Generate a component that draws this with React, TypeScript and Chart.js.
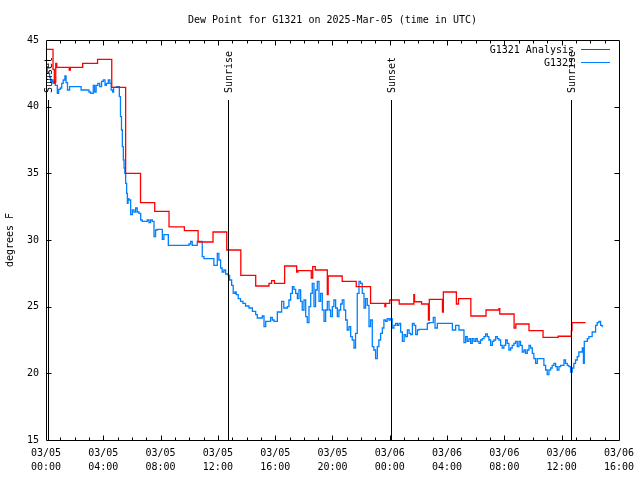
import React, { useEffect, useRef } from "react";
import { Chart, registerables } from "chart.js";

Chart.register(...registerables);

const TITLE = "Dew Point for G1321 on 2025-Mar-05 (time in UTC)";
const Y_TITLE = "degrees F";
const X_TICK_DATES = ["03/05", "03/05", "03/05", "03/05", "03/05", "03/05", "03/06", "03/06", "03/06", "03/06", "03/06"];
const X_TICK_TIMES = ["00:00", "04:00", "08:00", "12:00", "16:00", "20:00", "00:00", "04:00", "08:00", "12:00", "16:00"];
const ANALYSIS_LABEL = "G1321 Analysis";
const OBS_LABEL = "G1321";

// hours since 03/05 00:00 UTC
const analysisHours = [
  0.0, 0.49, 0.58, 0.68, 0.75, 1.62, 1.7, 2.56, 3.6, 4.59, 5.56, 6.6, 7.59, 8.59, 9.66, 10.62, 11.66,
  12.62, 13.6, 14.64, 15.57, 15.75, 15.95, 16.66, 17.5, 17.58, 18.52, 18.62, 18.8, 19.64, 19.7, 20.68,
  21.66, 22.66, 23.66, 23.72, 24.0, 24.66, 25.68, 25.73, 26.22, 26.7, 26.76, 27.68, 27.74, 28.65, 28.8,
  29.66, 30.72, 31.62, 31.68, 32.68, 32.8, 33.72, 34.7, 35.76, 36.68, 36.72, 37.67,
];
const analysisValues = [
  44.3, 42.8, 41.8, 43.25, 42.95, 42.75, 42.95, 43.25, 43.55, 41.45, 35.0, 32.8, 32.15, 30.98, 30.7, 29.85, 30.6,
  29.25, 27.35, 26.55, 26.75, 26.95, 26.75, 28.05, 27.6, 27.7, 27.15, 28.0, 27.75, 25.9, 27.3, 26.9,
  26.5, 25.25, 25.0, 25.25, 25.5, 25.2, 25.9, 25.37, 25.2, 24.0, 25.55, 24.6, 26.1, 25.2, 25.6,
  24.3, 24.75, 24.85, 24.45, 23.4, 23.7, 23.2, 22.7, 22.78, 23.2, 23.8, 23.8,
];

const obsHours = [
  0.02, 0.09, 0.15, 0.25, 0.32, 0.39, 0.48, 0.56, 0.65, 0.79, 0.88, 1.0, 1.1, 1.2, 1.32, 1.4, 1.5, 1.65,
  2.45, 3.0, 3.12, 3.3, 3.4, 3.5, 3.62, 3.75, 3.88, 4.0, 4.12, 4.22, 4.35, 4.46, 4.55, 4.65, 4.72, 4.92,
  5.12, 5.2, 5.27, 5.33, 5.4, 5.45, 5.5, 5.56, 5.63, 5.68, 5.73, 5.79, 5.91, 6.03, 6.14, 6.26, 6.37, 6.49,
  6.61, 6.72, 7.07, 7.19, 7.3, 7.42, 7.54, 7.65, 7.77, 8.12, 8.23, 8.54, 9.98, 10.1, 10.21, 10.56, 10.91,
  11.03, 11.72, 11.96, 12.07, 12.19, 12.3, 12.42, 12.54, 12.72, 12.82, 12.96, 13.07, 13.19, 13.28, 13.42,
  13.58, 13.75, 13.93, 14.17, 14.41, 14.64, 14.75, 15.1, 15.22, 15.34, 15.68, 15.8, 15.92, 16.15, 16.45,
  16.6, 16.85, 16.96, 17.08, 17.2, 17.31, 17.43, 17.55, 17.66, 17.78, 17.89, 18.01, 18.13, 18.24, 18.36,
  18.48, 18.59, 18.71, 18.82, 18.94, 19.06, 19.17, 19.29, 19.41, 19.52, 19.64, 19.76, 19.87, 19.99, 20.1,
  20.22, 20.34, 20.45, 20.57, 20.68, 20.8, 20.92, 21.03, 21.15, 21.27, 21.38, 21.5, 21.61, 21.73, 21.85,
  21.96, 22.08, 22.2, 22.31, 22.43, 22.55, 22.66, 22.78, 22.89, 23.01, 23.13, 23.24, 23.36, 23.48, 23.59,
  23.71, 23.82, 23.95, 24.06, 24.17, 24.29, 24.41, 24.53, 24.64, 24.76, 24.88, 25.0, 25.11, 25.23, 25.35,
  25.46, 25.58, 25.7, 25.81, 25.93, 26.04, 26.62, 26.74, 27.04, 27.16, 27.32, 28.37, 28.6, 28.83, 29.18,
  29.3, 29.41, 29.53, 29.65, 29.76, 29.88, 30.0, 30.11, 30.23, 30.34, 30.46, 30.58, 30.69, 30.81, 30.92,
  31.04, 31.16, 31.27, 31.39, 31.51, 31.62, 31.74, 31.85, 31.97, 32.09, 32.2, 32.32, 32.44, 32.55, 32.67,
  32.78, 32.9, 33.02, 33.13, 33.25, 33.37, 33.48, 33.6, 33.72, 33.83, 33.95, 34.06, 34.18, 34.3, 34.76,
  34.88, 34.99, 35.11, 35.23, 35.34, 35.46, 35.58, 35.69, 35.81, 35.93, 36.16, 36.27, 36.39, 36.51, 36.62,
  36.74, 36.85, 36.97, 37.09, 37.2, 37.44, 37.52, 37.58, 37.79, 37.9, 38.13, 38.37, 38.48, 38.6, 38.72, 38.83,
];
const obsValues = [
  43.0, 42.6, 42.5, 42.2, 41.9, 42.0, 41.75, 41.9, 41.6, 41.0, 41.3, 41.4, 41.75, 42.0, 42.3, 41.8, 41.25, 41.5,
  41.25, 41.1, 41.0, 41.6, 41.1, 41.6, 41.75, 41.5, 41.9, 42.0, 41.6, 41.75, 42.0, 41.75, 41.25, 41.1, 41.45, 41.5,
  40.75, 39.25, 38.25, 37.0, 36.0, 35.4, 35.0, 34.25, 33.5, 32.75, 33.1, 33.0, 31.9, 32.25, 32.1, 32.4, 32.1, 32.0,
  31.5, 31.4, 31.5, 31.3, 31.5, 31.4, 30.25, 30.75, 30.8, 30.05, 30.4, 29.6, 29.7, 29.9, 29.6, 29.9, 28.75,
  28.6, 28.1, 29.0, 28.5, 27.9, 27.6, 27.75, 27.45, 27.35, 27.0, 26.6, 26.0, 26.1, 25.9, 25.6,
  25.4, 25.25, 25.05, 24.9, 24.65, 24.4, 24.15, 24.3, 23.5, 23.9, 24.2, 24.0, 23.9, 24.6, 25.4,
  24.9, 25.0, 25.5, 26.0, 26.5, 26.3, 26.0, 25.6, 26.25, 25.4, 24.75, 25.5, 24.25, 23.8, 25.0,
  26.0, 26.75, 25.0, 26.25, 26.9, 25.4, 26.0, 24.75, 23.9, 24.75, 25.4, 24.75, 24.25, 25.0, 25.5,
  24.9, 24.25, 24.75, 25.2, 25.5, 24.75, 24.0, 23.25, 23.5, 22.75, 22.5, 21.9, 23.0, 26.0, 26.9,
  26.75, 26.0, 24.9, 25.6, 25.1, 23.5, 24.0, 22.0, 21.75, 21.1, 22.0, 22.5, 23.0, 23.4, 24.0,
  23.9, 24.1, 24.0, 24.1, 23.4, 23.6, 23.75, 23.6, 23.75, 23.1, 22.4, 22.9, 22.75, 23.25, 23.0,
  22.9, 23.75, 23.6, 22.9, 23.25, 23.3, 23.75, 23.8, 24.2, 23.4, 23.75, 23.25, 23.6, 23.25, 22.3,
  22.75, 22.4, 22.6, 22.25, 22.6, 22.4, 22.6, 22.4, 22.25, 22.5, 22.6, 22.75, 22.95, 22.75, 22.5,
  22.1, 22.4, 22.5, 22.75, 22.6, 22.5, 22.1, 21.9, 22.1, 22.5, 22.25, 21.75, 21.9, 22.1, 22.25,
  22.4, 22.0, 22.4, 22.1, 21.6, 21.75, 21.5, 21.75, 22.1, 21.9, 21.5, 21.1, 20.75, 21.1, 20.6,
  20.25, 19.9, 20.25, 20.4, 20.6, 20.75, 20.5, 20.25, 20.5, 20.6, 21.0, 20.75, 20.6, 20.5, 20.1,
  20.4, 20.75, 21.0, 21.25, 21.6, 21.9, 20.75, 22.4, 22.6, 22.75, 23.1, 23.6, 23.8, 23.9, 23.6, 23.45,
];

const sunEventHours = [0.15, 12.7, 24.12, 36.63];
const sunEventLabels = ["Sunset", "Sunrise", "Sunset", "Sunrise"];

const FONT_FAMILY = "'DejaVu Sans Mono', 'Liberation Mono', monospace";
const RED = "#ff0000";
const BLUE = "#0080ff";

const framePlugin = {
  id: "gnuplotFrame",
  afterDraw(chart: any) {
    const ctx = chart.ctx;
    const area = chart.chartArea;
    const xs = chart.scales.x;
    const ys = chart.scales.y;
    const L = Math.round(area.left) + 0.5;
    const R = Math.round(area.right) + 0.5;
    const T = Math.round(area.top) + 0.5;
    const B = Math.round(area.bottom) + 0.5;
    ctx.save();
    ctx.strokeStyle = "#000";
    ctx.lineWidth = 1;
    ctx.beginPath();
    ctx.rect(L, T, R - L, B - T);
    ctx.stroke();

    // x ticks (major every 4h, minor every hour), mirrored on top
    ctx.beginPath();
    for (let h = 1; h < 40; h++) {
      const px = Math.round(xs.getPixelForValue(h)) + 0.5;
      const len = h % 4 === 0 ? 5 : 3;
      ctx.moveTo(px, B);
      ctx.lineTo(px, B - len);
      ctx.moveTo(px, T);
      ctx.lineTo(px, T + len);
    }
    for (let v = 20; v < 45; v += 5) {
      const py = Math.round(ys.getPixelForValue(v)) + 0.5;
      ctx.moveTo(L, py);
      ctx.lineTo(L + 5, py);
      ctx.moveTo(R, py);
      ctx.lineTo(R - 5, py);
    }
    ctx.stroke();

    // sunrise / sunset markers
    ctx.font = `10px ${FONT_FAMILY}`;
    ctx.fillStyle = "#000";
    sunEventHours.forEach((h, i) => {
      const px = Math.round(xs.getPixelForValue(h)) + 0.5;
      ctx.beginPath();
      ctx.moveTo(px, 100);
      ctx.lineTo(px, B);
      ctx.stroke();
      ctx.save();
      ctx.translate(px + 1, 93);
      ctx.rotate(-Math.PI / 2);
      ctx.textAlign = "left";
      ctx.textBaseline = "middle";
      ctx.fillText(sunEventLabels[i], 0, 0);
      ctx.restore();
    });

    // legend
    const rows = [
      { label: ANALYSIS_LABEL, color: RED, y: 49.5 },
      { label: OBS_LABEL, color: BLUE, y: 62.5 },
    ];
    rows.forEach((r) => {
      ctx.fillStyle = "#000";
      ctx.textAlign = "right";
      ctx.textBaseline = "middle";
      ctx.fillText(r.label, 574, r.y + 1);
      ctx.strokeStyle = r.color;
      ctx.beginPath();
      ctx.moveTo(581, r.y);
      ctx.lineTo(610, r.y);
      ctx.stroke();
    });
    ctx.restore();
  },
};

export default function App() {
  const canvasRef = useRef<HTMLCanvasElement | null>(null);

  useEffect(() => {
    const canvas = canvasRef.current;
    if (!canvas) return;
    const font = { family: FONT_FAMILY, size: 10, weight: "normal" as const, lineHeight: 1.2 };
    const chart = new Chart(canvas, {
      type: "line",
      data: {
        datasets: [
          {
            label: ANALYSIS_LABEL,
            data: analysisHours.map((h, i) => ({ x: h, y: analysisValues[i] })),
            borderColor: RED,
            borderWidth: 1.3,
            stepped: true,
            pointRadius: 0,
            fill: false,
          },
          {
            label: OBS_LABEL,
            data: obsHours.map((h, i) => ({ x: h, y: obsValues[i] })),
            borderColor: BLUE,
            borderWidth: 1.3,
            stepped: true,
            pointRadius: 0,
            fill: false,
          },
        ],
      },
      options: {
        animation: false,
        responsive: false,
        devicePixelRatio: 1,
        layout: { padding: { top: 0, right: 19, bottom: 0, left: 0 } },
        plugins: {
          legend: { display: false },
          tooltip: { enabled: false },
          title: {
            display: true,
            fullSize: false,
            text: TITLE,
            color: "#000",
            font,
            padding: { top: 14, bottom: 14 },
          },
        },
        scales: {
          x: {
            type: "linear",
            min: 0,
            max: 40,
            afterFit: (s: any) => {
              s.height = 40;
            },
            grid: { display: false, drawTicks: false },
            border: { display: false },
            ticks: {
              stepSize: 4,
              autoSkip: false,
              maxRotation: 0,
              minRotation: 0,
              padding: 6,
              color: "#000",
              font: { ...font, lineHeight: 1.4 },
              callback: (v: any) => {
                const k = Math.round(Number(v) / 4);
                return [X_TICK_DATES[k], X_TICK_TIMES[k]];
              },
            },
          },
          y: {
            min: 15,
            max: 45,
            afterFit: (s: any) => {
              s.width = 46;
            },
            grid: { display: false, drawTicks: false },
            border: { display: false },
            ticks: { stepSize: 5, padding: 7, color: "#000", font },
            title: { display: true, text: Y_TITLE, color: "#000", font, padding: { top: 4, bottom: 0 } },
          },
        },
      },
      plugins: [framePlugin],
    });
    return () => chart.destroy();
  }, []);

  return (
    <div style={{ position: "fixed", left: 0, top: 0, width: 640, height: 480, background: "#fff" }}>
      <canvas ref={canvasRef} width={640} height={480} style={{ display: "block" }} />
    </div>
  );
}
